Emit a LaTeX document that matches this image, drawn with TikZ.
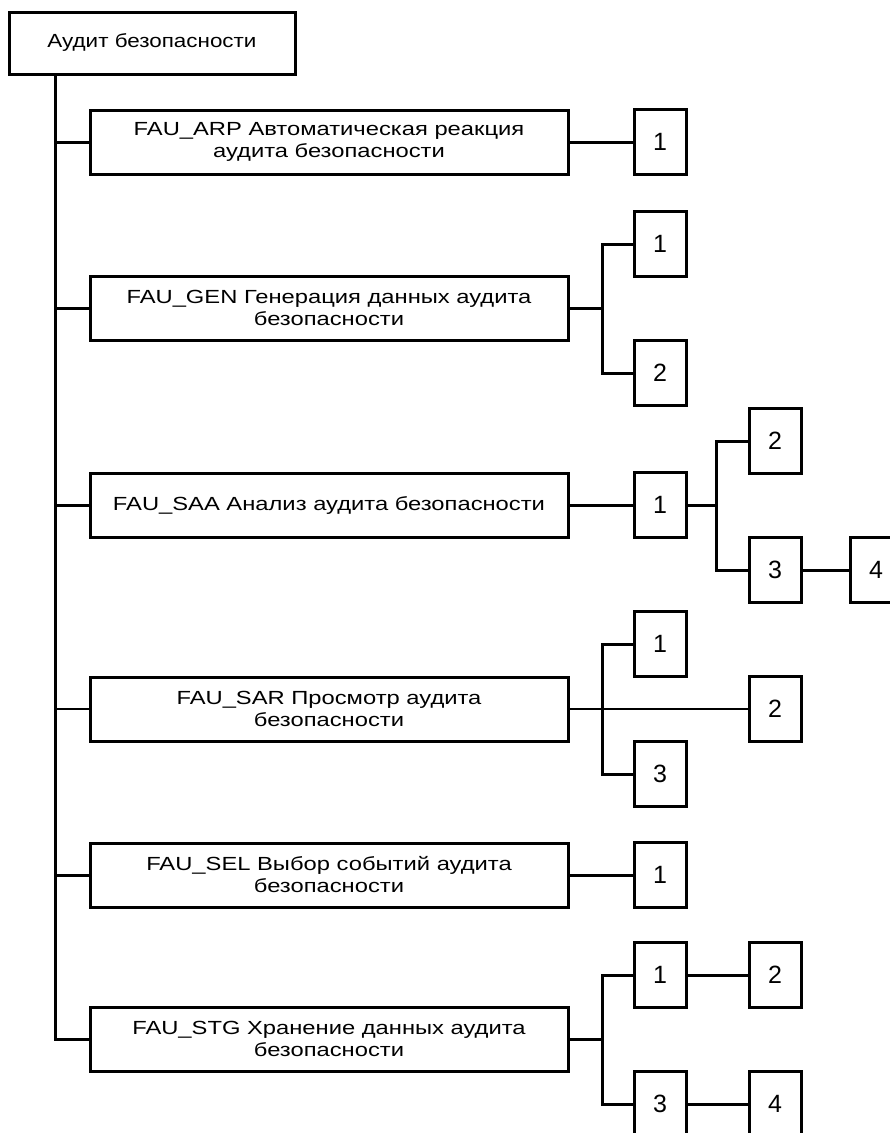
\documentclass[tikz,border=0pt]{standalone}
\usepackage{fontspec}
\setmainfont{Liberation Sans}
\newfontfamily\boxfont[FakeStretch=1.25]{Liberation Sans}
\newfontfamily\rootfont[FakeStretch=1.18]{Liberation Sans}
\begin{document}
\begin{tikzpicture}[x=1pt,y=-1pt,
  ln/.style={line width=3pt,line join=miter},
  thin ln/.style={line width=2pt},
  mainbox/.style={draw,line width=3pt,minimum width=478pt,minimum height=64pt,inner sep=0pt,align=center,font=\boxfont\fontsize{19}{22}\selectfont},
  numbox/.style={draw,line width=3pt,minimum width=52pt,minimum height=65pt,inner sep=0pt,font=\fontsize{25}{25}\selectfont}]
\useasboundingbox (0,0) rectangle (890,1133);
% root
\node[draw,line width=3pt,minimum width=286pt,minimum height=62pt,inner sep=0pt,font=\rootfont\fontsize{19}{22}\selectfont] (root) at (152,43) {Аудит безопасности};
% main boxes
\node[mainbox] (arp) at (329,142) {FAU\_ARP Автоматическая реакция\\аудита безопасности};
\node[mainbox] (gen) at (329,308) {FAU\_GEN Генерация данных аудита\\безопасности};
\node[mainbox] (saa) at (329,505) {FAU\_SAA Анализ аудита безопасности};
\node[mainbox] (sar) at (329,709) {FAU\_SAR Просмотр аудита\\безопасности};
\node[mainbox] (sel) at (329,875) {FAU\_SEL Выбор событий аудита\\безопасности};
\node[mainbox] (stg) at (329,1039) {FAU\_STG Хранение данных аудита\\безопасности};
% number boxes
\node[numbox] (arp1) at (660,142) {1};
\node[numbox] (gen1) at (660,244) {1};
\node[numbox] (gen2) at (660,373) {2};
\node[numbox] (saa1) at (660,505) {1};
\node[numbox] (saa2) at (775,441) {2};
\node[numbox] (saa3) at (775,570) {3};
\node[numbox] (saa4) at (876,570) {4};
\node[numbox] (sar1) at (660,644) {1};
\node[numbox] (sar2) at (775,709) {2};
\node[numbox] (sar3) at (660,774) {3};
\node[numbox] (sel1) at (660,875) {1};
\node[numbox] (stg1) at (660,975) {1};
\node[numbox] (stg2) at (775,975) {2};
\node[numbox] (stg3) at (660,1104) {3};
\node[numbox] (stg4) at (775,1104) {4};
% trunk
\coordinate (tk) at (55,0);
\coordinate (bx) at (602,0);
\coordinate (by) at (716,0);
\draw[ln] (tk |- root.south) -- (tk |- stg.west) -- (stg.west);
\foreach \n in {arp,gen,saa,sel}
  \draw[ln] (tk |- \n.west) -- (\n.west);
\draw[thin ln] (tk |- sar.west) -- (sar.west);
% ARP
\draw[ln] (arp.east) -- (arp1.west);
% GEN
\draw[ln] (gen.east) -- (bx |- gen.east);
\draw[ln] (gen1.west) -- (bx |- gen1.west) -- (bx |- gen2.west) -- (gen2.west);
% SAA
\draw[ln] (saa.east) -- (saa1.west);
\draw[ln] (saa1.east) -- (by |- saa1.east);
\draw[ln] (saa2.west) -- (by |- saa2.west) -- (by |- saa3.west) -- (saa3.west);
\draw[ln] (saa3.east) -- (saa4.west);
% SAR
\draw[thin ln] (sar.east) -- (sar2.west);
\draw[ln] (sar1.west) -- (bx |- sar1.west) -- (bx |- sar3.west) -- (sar3.west);
% SEL
\draw[ln] (sel.east) -- (sel1.west);
% STG
\draw[ln] (stg.east) -- (bx |- stg.east);
\draw[ln] (stg1.west) -- (bx |- stg1.west) -- (bx |- stg3.west) -- (stg3.west);
\draw[ln] (stg1.east) -- (stg2.west);
\draw[ln] (stg3.east) -- (stg4.west);
\end{tikzpicture}
\end{document}
